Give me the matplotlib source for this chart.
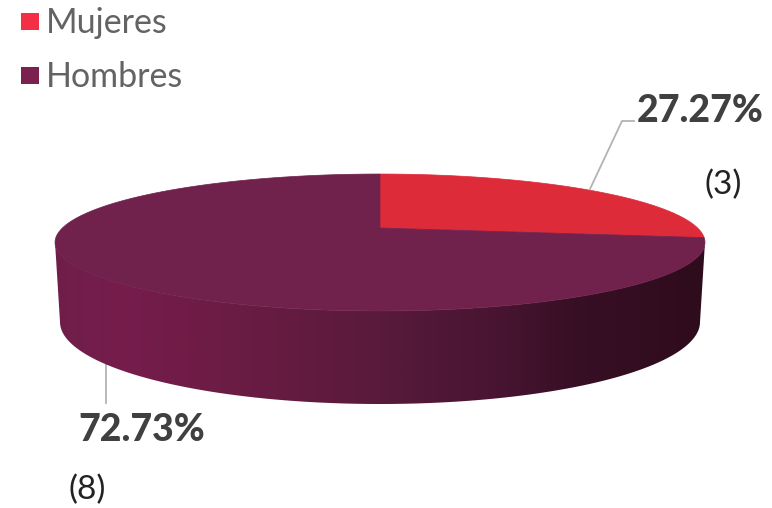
import numpy as np
import matplotlib
matplotlib.use("Agg")
import matplotlib.pyplot as plt
from matplotlib.colors import LinearSegmentedColormap
from matplotlib.patches import Polygon, Rectangle

categories = ["Mujeres", "Hombres"]
counts = [3, 8]
percent_labels = ["27.27%", "72.73%"]
count_labels = ["(3)", "(8)"]
legend_colors = ["#f22f45", "#7b2150"]
top_colors = ["#dd2b3a", "#70214c"]

fig = plt.figure(figsize=(7.72, 5.08), dpi=100)
ax = fig.add_axes([0, 0, 1, 1])

# perspective projection of the unit disc
CX, CY, A, B, K = 380, 228, 317.6, 65.4, 0.2118


def project(theta):
    u, v = np.sin(theta), np.cos(theta)
    w = 1 + K * v
    return CX + A * u / w, CY - B * v / w


def bottom_rim(t):
    return 380 + 320 * np.cos(t), 322 + 82 * np.sin(t)


def top_rim(t):
    return 380 + 325 * np.cos(t), 242 + 69 * np.sin(t)


# side wall: horizontal gradient clipped to the wall outline
side_cmap = LinearSegmentedColormap.from_list(
    "side",
    [(0.0, "#6f1f4a"), (0.1, "#761c4c"), (0.3, "#691c43"), (0.5, "#591a3b"),
     (0.7, "#461430"), (0.8, "#380f25"), (1.0, "#2e0c1c")],
)
t = np.linspace(np.pi, 0, 300)
wall = np.vstack([np.column_stack(top_rim(t)), np.column_stack(bottom_rim(t))[::-1]])
wall_patch = Polygon(wall, closed=True, facecolor="none", edgecolor="none", transform=ax.transData)
ax.add_patch(wall_patch)
img = ax.imshow(np.linspace(0, 1, 650)[None, :], cmap=side_cmap, extent=(55, 705, 408, 238),
                aspect="auto", interpolation="bilinear", zorder=1)
img.set_clip_path(wall_patch)

ax.set_xlim(0, 772)
ax.set_ylim(508, 0)
ax.axis("off")

# top face
fractions = np.array(counts, dtype=float) / sum(counts)
bounds = np.concatenate([[0], np.cumsum(fractions)]) * 2 * np.pi
for i in range(len(counts)):
    th = np.linspace(bounds[i], bounds[i + 1], 240)
    xs, ys = project(th)
    pts = np.column_stack([np.r_[CX, xs], np.r_[CY, ys]])
    ax.add_patch(Polygon(pts, closed=True, facecolor=top_colors[i], edgecolor=top_colors[i], linewidth=0.5, zorder=2))

# legend
for name, colour, ytop, ybase in zip(categories, legend_colors, [13, 67], [33, 87]):
    ax.add_patch(Rectangle((21, ytop), 18, 17, facecolor=colour, edgecolor="none"))
    ax.text(46, ybase, name, fontsize=24.5, family="Lato", color="#636363", va="baseline", ha="left")

# leaders
ax.plot([590, 622, 634], [189, 121, 121], color="#b3b3b3", lw=1.3, zorder=3)
ax.plot([105.5, 105.5], [362, 403], color="#b3b3b3", lw=1.3, zorder=0.5)

# labels
ax.text(637, 122, percent_labels[0], fontsize=27, family="Lato", weight="black", color="#404040", va="baseline", ha="left")
ax.text(78, 441, percent_labels[1], fontsize=27, family="Lato", weight="black", color="#404040", va="baseline", ha="left")
ax.text(704, 194, count_labels[0], fontsize=24, family="Lato", color="#222222", va="baseline", ha="left")
ax.text(69, 499, count_labels[1], fontsize=24, family="Lato", color="#222222", va="baseline", ha="left")

fig.savefig("out.png", dpi=100)
